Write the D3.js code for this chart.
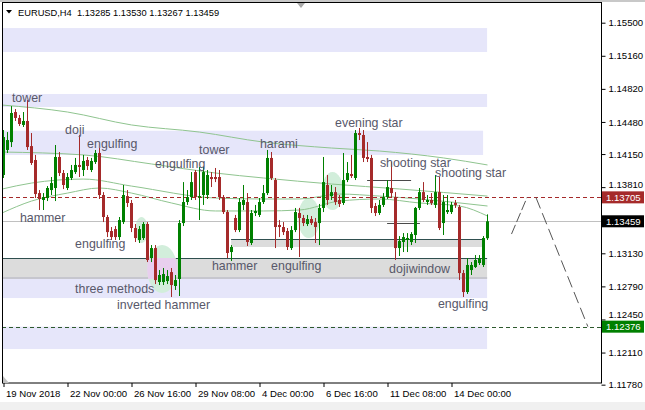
<!DOCTYPE html>
<html><head><meta charset="utf-8">
<script src="https://cdn.jsdelivr.net/npm/d3@7"></script>
<style>
html,body{margin:0;padding:0;background:#fff;}
svg{display:block;font-family:"Liberation Sans",Arial,sans-serif;}
</style></head><body>
<svg id="c" width="645" height="410"></svg>
<script>
const titleText = "EURUSD,H4  1.13285 1.13530 1.13267 1.13459";

const opens = [
1.13935,1.14192,1.14273,1.14582,1.14521,1.14449,1.14490,1.14232,1.14089,1.13749,
1.13678,1.13698,1.13780,1.13801,1.14120,1.13955,1.13801,1.13904,1.13965,1.14038,
1.13986,1.14089,1.13986,1.14068,1.14161,1.13729,1.13503,1.13359,1.13379,1.13297,
1.13451,1.13718,1.13647,1.13390,1.13267,1.13287,1.13431,1.13081,1.13184,1.12835,
1.12835,1.12845,1.12937,1.12794,1.12866,1.13441,1.13657,1.13708,1.13965,1.13708,
1.13729,1.13729,1.13914,1.13914,1.13914,1.13708,1.13554,1.13143,1.13493,1.13369,
1.13627,1.13657,1.13236,1.13544,1.13524,1.13657,1.13749,1.14110,1.13883,1.13421,
1.13400,1.13359,1.13184,1.13369,1.13544,1.13493,1.13431,1.13482,1.13451,1.13441,
1.13596,1.13832,1.13718,1.13759,1.13678,1.13647,1.13883,1.13945,1.13904,1.14366,
1.14346,1.14120,1.14110,1.13616,1.13544,1.13627,1.13708,1.13801,1.13708,1.13184,
1.13246,1.13267,1.13246,1.13318,1.13596,1.13759,1.13657,1.13678,1.13627,1.13759,
1.13441,1.13554,1.13554,1.13647,1.13606,1.12927,1.12732,1.12958,1.12989,1.13030,
1.13010,1.13285];
const highs = [
1.14397,1.14376,1.14643,1.14613,1.14552,1.14582,1.14705,1.14366,1.14141,1.13780,
1.13749,1.13821,1.13914,1.14243,1.14171,1.13986,1.13955,1.14038,1.14110,1.14346,
1.14141,1.14120,1.14110,1.14192,1.14212,1.13759,1.13524,1.13400,1.13410,1.13503,
1.13832,1.13780,1.13678,1.13431,1.13410,1.13451,1.13451,1.13215,1.13215,1.12958,
1.12979,1.12958,1.12979,1.12907,1.13472,1.13862,1.13780,1.13965,1.13986,1.14017,
1.14017,1.13986,1.13965,1.14007,1.13986,1.13729,1.13575,1.13215,1.13524,1.13698,
1.13832,1.13749,1.13575,1.13627,1.13698,1.13832,1.14192,1.14171,1.13904,1.13472,
1.13451,1.13390,1.13410,1.13596,1.13596,1.13524,1.13524,1.13513,1.13493,1.13637,
1.14120,1.13935,1.13832,1.13811,1.13729,1.14161,1.14068,1.14141,1.14397,1.14418,
1.14397,1.14273,1.14141,1.13647,1.13678,1.13749,1.13883,1.14068,1.13759,1.13307,
1.13338,1.13338,1.13348,1.13606,1.13801,1.13862,1.13729,1.13749,1.13935,1.13914,
1.13729,1.13729,1.13657,1.13678,1.13627,1.12958,1.13081,1.13040,1.13112,1.13112,
1.13307,1.13530];
const lows = [
1.13904,1.14161,1.14222,1.14490,1.14438,1.14428,1.14192,1.14038,1.13698,1.13575,
1.13575,1.13667,1.13729,1.13667,1.13924,1.13790,1.13780,1.13883,1.13945,1.13914,
1.13924,1.13986,1.13965,1.14048,1.13688,1.13451,1.13297,1.13267,1.13267,1.13267,
1.13431,1.13606,1.13348,1.13246,1.13236,1.13267,1.13040,1.13040,1.12814,1.12804,
1.12804,1.12814,1.12681,1.12753,1.12691,1.13410,1.13627,1.13678,1.13678,1.13472,
1.13627,1.13688,1.13811,1.13862,1.13678,1.13534,1.13081,1.13051,1.13348,1.13348,
1.13575,1.13205,1.13215,1.13513,1.13503,1.13637,1.13729,1.13883,1.13184,1.13297,
1.13318,1.13164,1.13164,1.13348,1.13092,1.13410,1.13410,1.13421,1.13236,1.13215,
1.13554,1.13627,1.13678,1.13627,1.13606,1.13627,1.13862,1.13904,1.13883,1.14294,
1.14068,1.14068,1.13544,1.13513,1.13524,1.13606,1.13688,1.13698,1.13061,1.13102,
1.13143,1.13143,1.13215,1.13236,1.13575,1.13657,1.13627,1.13627,1.13596,1.13369,
1.13318,1.13534,1.13534,1.13596,1.12855,1.12681,1.12712,1.12907,1.12979,1.13010,
1.12989,1.13267];
const closes = [
1.14325,1.14294,1.14572,1.14521,1.14459,1.14490,1.14222,1.14058,1.13739,1.13688,
1.13708,1.13801,1.13852,1.14120,1.13955,1.13832,1.13914,1.13986,1.14038,1.14017,
1.14079,1.14027,1.14079,1.14161,1.13729,1.13503,1.13348,1.13297,1.13297,1.13472,
1.13729,1.13647,1.13390,1.13287,1.13379,1.13431,1.13061,1.13184,1.12855,1.12907,
1.12917,1.12896,1.12804,1.12855,1.13441,1.13657,1.13708,1.13862,1.13708,1.13718,
1.13965,1.13935,1.13893,1.13893,1.13708,1.13554,1.13133,1.13195,1.13369,1.13657,
1.13678,1.13246,1.13544,1.13565,1.13657,1.13749,1.14110,1.13904,1.13400,1.13400,
1.13348,1.13195,1.13369,1.13554,1.13493,1.13441,1.13482,1.13441,1.13400,1.13596,
1.13862,1.13678,1.13759,1.13657,1.13637,1.13883,1.13955,1.13924,1.14366,1.14346,
1.14110,1.14099,1.13596,1.13544,1.13627,1.13708,1.13811,1.13749,1.13184,1.13256,
1.13297,1.13287,1.13328,1.13596,1.13759,1.13678,1.13678,1.13647,1.13759,1.13390,
1.13657,1.13575,1.13627,1.13627,1.12927,1.12732,1.13010,1.13010,1.13061,1.13081,
1.13287,1.13459];

const timeTickBars = [0,16,32,48,64,80,96,112];
const timeTickLabels = ["19 Nov 2018","22 Nov 00:00","26 Nov 16:00","29 Nov 08:00","4 Dec 00:00","6 Dec 16:00","11 Dec 08:00","14 Dec 00:00"];
const priceTicks = [1.15500,1.15160,1.14820,1.14480,1.14150,1.13810,1.13130,1.12790,1.12450,1.12110,1.11780];
const priceTickLabels = ["1.15500","1.15160","1.14820","1.14480","1.14150","1.13810","1.13130","1.12790","1.12450","1.12110","1.11780"];

// marker levels: resistance (dashed), current bid, support (dashed)
const markerPrices = [1.13705, 1.13459, 1.12376];
const markerLabels = ["1.13705","1.13459","1.12376"];

// zones: [fromBar, toBar, upperPrice, lowerPrice]
const lavenderZones = [
  [-0.5,120.9,1.15445,1.15199],
  [-0.5,120.9,1.14767,1.14634],
  [-0.5,119.9,1.14390,1.14140],
  [-0.5,120.9,1.12866,1.12670],
  [-0.5,120.9,1.12376,1.12146]
];
const greyZones = [
  [-0.5,120.9,1.13081,1.12866],
  [56.9,119.9,1.13277,1.13195]
];
const ellipseZones = [
  [32.9,36.1,1.13503,1.13236],
  [35.9,43.4,1.13215,1.12722],
  [73.6,79.1,1.13698,1.13287],
  [79.6,84.9,1.13965,1.13575]
];
// short horizontal levels: [fromBar, toBar, price]
const shortLevels = [[90.9,101.9,1.13883],[95.9,104.1,1.13441]];
// projection paths [bar, price]
const projUp = [[127.0,1.13328],[130.9,1.13705]];
const projDown = [[133.1,1.13705],[146.1,1.12376]];

// moving-average style lines [bar, price]
const maLine1 = [[-0.4,1.14654],[16,1.14582],[32,1.14449],[49,1.14376],[65,1.14273],[82,1.14212],[94,1.14181],[110,1.14110],[121,1.14038]];
const maLine2 = [[-0.4,1.14171],[20,1.14141],[37,1.14048],[53,1.13955],[65,1.13904],[82,1.13842],[99,1.13791],[121,1.13718]];
const maLine3 = [[-0.4,1.13790],[7,1.13852],[20,1.13893],[32,1.13821],[53,1.13698],[65,1.13688],[74,1.13688],[84,1.13739],[94,1.13718],[104,1.13688],[121,1.13616]];
const maLine4 = [[-0.4,1.13544],[7,1.13667],[16,1.13749],[24,1.13801],[32,1.13749],[42,1.13647],[53,1.13565],[65,1.13565],[74,1.13575],[84,1.13667],[94,1.13688],[104,1.13647],[114,1.13616],[121,1.13513]];

// pattern annotations
const patternNames = ["tower","doji","engulfing","engulfing","tower","harami","evening star","shooting star","shooting star","hammer","engulfing","hammer","engulfing","doji","window","three methods","inverted hammer","engulfing"];
const patternBars = [2.1,15.4,20.9,37.9,48.9,64.1,82.9,94.1,107.9,4.1,17.9,52.1,66.9,96.4,101.3,17.9,28.4,108.6];
const patternPrices = [1.14736,1.14397,1.14253,1.14048,1.14192,1.14263,1.14479,1.14058,1.13965,1.13493,1.13226,1.13000,1.13000,1.12969,1.12969,1.12773,1.12599,1.12609];

const svg = d3.select("#c");
const P = {l:2, r:601, t:2.5, b:383};
const x = d3.scaleLinear().domain([0, closes.length-1]).range([3.5, 487.5]);
const y = d3.scaleLinear().domain([1.1178, 1.155]).range([384.66, 22.7]);

const BULL = "#008000", BEAR = "#a52a2a";

svg.append("rect").attr("width",645).attr("height",410).attr("fill","#fff");
svg.append("rect").attr("x",0).attr("y",0).attr("width",645).attr("height",2).attr("fill","#c8c8c8");
svg.append("rect").attr("x",0).attr("y",402).attr("width",645).attr("height",8).attr("fill","#f0f0f0");

const defs = svg.append("defs");
defs.append("clipPath").attr("id","plotclip").append("rect")
  .attr("x",P.l).attr("y",P.t).attr("width",P.r-P.l).attr("height",P.b-P.t);
greyZones.forEach((z,k)=>{
  defs.append("clipPath").attr("id","gz"+k).append("rect")
    .attr("x",x(z[0])).attr("width",x(z[1])-x(z[0]))
    .attr("y",y(z[2])).attr("height",y(z[3])-y(z[2]));
});

const g = svg.append("g").attr("clip-path","url(#plotclip)");

// lavender zones
g.selectAll("rect.lav").data(lavenderZones).join("rect").attr("class","lav")
  .attr("x",d=>x(d[0])).attr("width",d=>x(d[1])-x(d[0]))
  .attr("y",d=>y(d[2])).attr("height",d=>y(d[3])-y(d[2]))
  .attr("fill","#e6e6fa");
// grey zones
g.selectAll("rect.gz").data(greyZones).join("rect").attr("class","gz")
  .attr("x",d=>x(d[0])).attr("width",d=>x(d[1])-x(d[0]))
  .attr("y",d=>y(d[2])).attr("height",d=>y(d[3])-y(d[2]))
  .attr("fill","#dcdcdc");
g.selectAll("line.gzt").data(greyZones).join("line").attr("class","gzt")
  .attr("x1",d=>x(d[0])).attr("x2",d=>x(d[1]))
  .attr("y1",d=>Math.round(y(d[2]))+0.5).attr("y2",d=>Math.round(y(d[2]))+0.5)
  .attr("stroke","#2f4f4f").attr("stroke-width",1.2);
g.append("rect")
  .attr("x",x(greyZones[0][0])).attr("width",x(greyZones[0][1])-x(greyZones[0][0]))
  .attr("y",y(greyZones[0][3])-2).attr("height",2).attr("fill","#c6c6ce");

// ellipses
const ell = d=>({cx:(x(d[0])+x(d[1]))/2, rx:(x(d[1])-x(d[0]))/2, cy:(y(d[2])+y(d[3]))/2, ry:(y(d[3])-y(d[2]))/2});
g.selectAll("ellipse.e").data(ellipseZones).join("ellipse").attr("class","e")
  .attr("cx",d=>ell(d).cx).attr("cy",d=>ell(d).cy).attr("rx",d=>ell(d).rx).attr("ry",d=>ell(d).ry)
  .attr("fill","#d2eedb");
greyZones.forEach((z,k)=>{
  g.append("g").attr("clip-path","url(#gz"+k+")")
   .selectAll("ellipse").data(ellipseZones).join("ellipse")
   .attr("cx",d=>ell(d).cx).attr("cy",d=>ell(d).cy).attr("rx",d=>ell(d).rx).attr("ry",d=>ell(d).ry)
   .attr("fill","#e8cfee");
});

// MA lines
const lineGen = d3.line().x(d=>x(d[0])).y(d=>y(d[1])).curve(d3.curveMonotoneX);
[maLine1,maLine2,maLine3,maLine4].forEach(L=>{
  g.append("path").attr("d",lineGen(L)).attr("fill","none").attr("stroke","#8fc48f").attr("stroke-width",1);
});

// horizontal level lines
const yl = p=>Math.round(y(p))+0.5;
g.append("line").attr("x1",P.l).attr("x2",P.r).attr("y1",yl(markerPrices[1])).attr("y2",yl(markerPrices[1]))
  .attr("stroke","#c0c0c0");
g.append("line").attr("x1",P.l).attr("x2",P.r).attr("y1",yl(markerPrices[0])).attr("y2",yl(markerPrices[0]))
  .attr("stroke","#a52a2a").attr("stroke-dasharray","4,3");
g.append("line").attr("x1",P.l).attr("x2",P.r).attr("y1",yl(markerPrices[2])).attr("y2",yl(markerPrices[2]))
  .attr("stroke","#2e5a2e").attr("stroke-dasharray","4,3");
g.selectAll("line.sl").data(shortLevels).join("line").attr("class","sl")
  .attr("x1",d=>x(d[0])).attr("x2",d=>x(d[1])).attr("y1",d=>yl(d[2])).attr("y2",d=>yl(d[2]))
  .attr("stroke","#4a4a4a");

// candles
const bars = d3.range(closes.length).map(i=>({i,o:opens[i],h:highs[i],l:lows[i],c:closes[i]}));
g.selectAll("line.wick").data(bars).join("line").attr("class","wick")
  .attr("x1",d=>x(d.i)).attr("x2",d=>x(d.i))
  .attr("y1",d=>y(d.h)).attr("y2",d=>y(d.l))
  .attr("stroke",d=>d.c>=d.o?BULL:BEAR).attr("stroke-width",1);
g.selectAll("rect.body").data(bars).join("rect").attr("class","body")
  .attr("x",d=>x(d.i)-1.5).attr("width",3)
  .attr("y",d=>y(Math.max(d.o,d.c)))
  .attr("height",d=>Math.max(1,Math.abs(y(d.o)-y(d.c))))
  .attr("fill",d=>d.c>=d.o?BULL:BEAR);

// projection
g.append("path").attr("d",d3.line().x(d=>x(d[0])).y(d=>y(d[1]))(projUp))
  .attr("fill","none").attr("stroke","#555").attr("stroke-dasharray","10,3");
g.append("path").attr("d",d3.line().x(d=>x(d[0])).y(d=>y(d[1]))(projDown))
  .attr("fill","none").attr("stroke","#555").attr("stroke-dasharray","12,5");

// pattern labels
g.selectAll("text.pat").data(patternNames).join("text").attr("class","pat")
  .attr("x",(d,i)=>x(patternBars[i])).attr("y",(d,i)=>y(patternPrices[i]))
  .attr("dy","0.36em").attr("font-size","12.4px").attr("fill","#58586a")
  .text(d=>d);

// frame
svg.append("rect").attr("x",2.5).attr("y",2.5).attr("width",599).attr("height",380.5)
  .attr("fill","none").attr("stroke","#000");

// axes
const ya = svg.append("g").attr("transform","translate(601.5,0)")
  .call(d3.axisRight(y).tickValues(priceTicks).tickFormat((d,i)=>priceTickLabels[i]).tickSize(4).tickPadding(3));
ya.select(".domain").remove();
ya.selectAll("text").attr("font-size","9.6px").attr("font-family","'Liberation Sans',Arial,sans-serif").attr("fill","#000");
ya.selectAll("line").attr("stroke","#000");
// nudge tick labels that would collide with a price marker box
ya.selectAll(".tick").each(function(d){
  const dist = d3.min(markerPrices, p => y(d) - y(p));
  const near = markerPrices.map(p=>y(d)-y(p)).find(v=>v<0 && v>-12);
  if (near !== undefined) d3.select(this).select("text").attr("y", -(12 + near) - 0.5);
});

const xa = svg.append("g").attr("transform","translate(0,383)")
  .call(d3.axisBottom(x).tickValues(timeTickBars).tickFormat((d,i)=>timeTickLabels[i]).tickSize(4).tickPadding(3));
xa.select(".domain").remove();
xa.selectAll("text").attr("text-anchor","start").attr("x",2).attr("font-size","9.6px")
  .attr("font-family","'Liberation Sans',Arial,sans-serif").attr("fill","#000");
xa.selectAll("line").attr("stroke","#000");

// price markers
const mColors = ["#a52a2a","#000000","#008000"];
const mk = svg.append("g");
markerPrices.forEach((p,k)=>{
  mk.append("rect").attr("x",602).attr("y",y(p)-6).attr("width",42).attr("height",12).attr("fill",mColors[k]);
  mk.append("text").attr("x",606).attr("y",y(p)).attr("dy","0.36em").attr("font-size","9.6px")
    .attr("fill","#fff").text(markerLabels[k]);
});

// title
svg.append("path").attr("d","M6,10L12,10L9,13.5Z").attr("fill","#000");
svg.append("text").attr("x",18).attr("y",15.5).attr("font-size","9.3px").attr("fill","#000")
  .attr("xml:space","preserve").style("white-space","pre").text(titleText);
// shift markers
svg.append("path").attr("d","M297,3L305,3L301,8Z").attr("fill","#a8a8a8");
svg.append("path").attr("d","M3,376L3,383L9,383Z").attr("fill","#c0c0c0");
</script>
</body></html>
